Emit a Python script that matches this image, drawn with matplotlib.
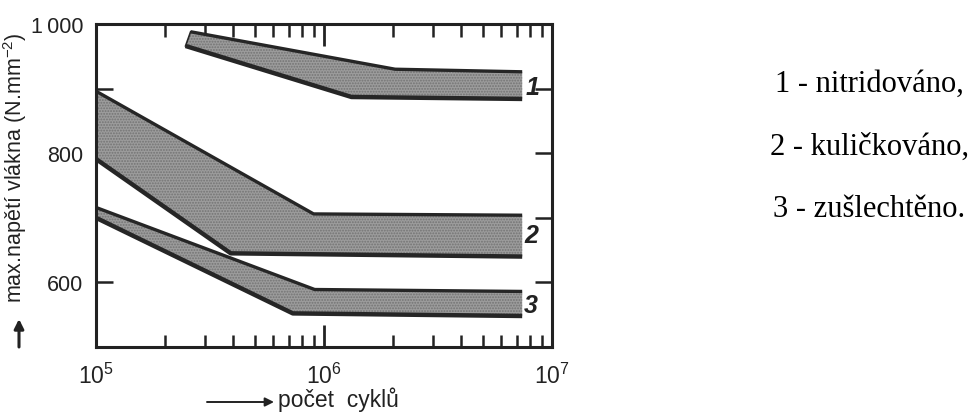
import matplotlib
matplotlib.use("Agg")
import matplotlib.pyplot as plt

plt.rcParams['font.family'] = ['Liberation Sans', 'DejaVu Sans']
plt.rcParams['mathtext.fontset'] = 'custom'
plt.rcParams['mathtext.rm'] = 'Liberation Sans'
plt.rcParams['mathtext.it'] = 'Liberation Sans:italic'
plt.rcParams['hatch.color'] = '#737373'
plt.rcParams['hatch.linewidth'] = 0.9

# ---- data ----
band_names = ['1', '2', '3']
legend_lines = ['1 - nitridováno,', '2 - kuličkováno,', '3 - zušlechtěno.']

b1_upper_x = [2.6e5, 2.05e6, 7.4e6]
b1_upper_y = [988, 930, 926]
b1_lower_x = [2.47e5, 1.32e6, 7.4e6]
b1_lower_y = [966, 887, 884]

b2_upper_x = [1e5, 9.0e5, 7.4e6]
b2_upper_y = [896, 706, 704]
b2_lower_x = [1e5, 3.9e5, 7.4e6]
b2_lower_y = [791, 645, 640]

b3_upper_x = [1e5, 9.1e5, 7.4e6]
b3_upper_y = [716, 589, 586]
b3_lower_x = [1e5, 7.3e5, 7.4e6]
b3_lower_y = [700, 552, 548]

label_x = [8.2e6, 8.1e6, 8.1e6]
label_y = [903, 673, 565]

y_ticks = [600, 700, 800, 900, 1000]
y_ticklabels = ['600', '', '800', '', '1\u2009000']
x_ticks = [1e5, 1e6, 1e7]
x_ticklabels = ['$10^5$', '$10^6$', '$10^7$']

bands = [
    (b1_upper_x, b1_upper_y, b1_lower_x, b1_lower_y),
    (b2_upper_x, b2_upper_y, b2_lower_x, b2_lower_y),
    (b3_upper_x, b3_upper_y, b3_lower_x, b3_lower_y),
]

fig = plt.figure(figsize=(9.74, 4.14), dpi=100)
ax = fig.add_axes([96/974, 66/414, 456/974, 323/414])
ax.set_xscale('log')
ax.set_xlim(1e5, 1e7)
ax.set_ylim(500, 1000)

edge = '#262626'
for ux, uy, lx, ly in bands:
    px = list(ux) + list(lx[::-1])
    py = list(uy) + list(ly[::-1])
    ax.fill(px, py, facecolor='#9c9c9c', hatch='......', linewidth=0, zorder=2)
    ax.plot(ux, uy, color=edge, lw=2.4, solid_capstyle='butt', zorder=3)
    ax.plot(lx, ly, color=edge, lw=3.2, solid_capstyle='butt', zorder=3)
    ax.plot([ux[0], lx[0]], [uy[0], ly[0]], color=edge, lw=1.2, zorder=3)

for name, x, y in zip(band_names, label_x, label_y):
    ax.text(x, y, name, fontsize=18, style='italic', fontweight='bold',
            ha='center', va='center', color='#222222', zorder=4)

ax.set_xticks(x_ticks, x_ticklabels)
ax.set_yticks(y_ticks, y_ticklabels)
ax.tick_params(axis='x', which='major', direction='in', length=16, width=2.0,
               top=True, bottom=True, pad=11, labelsize=16.5, colors='#222222')
ax.tick_params(axis='x', which='minor', direction='in', length=9, width=1.8,
               top=True, bottom=True, colors='#222222')
ax.tick_params(axis='y', which='major', direction='in', length=12, width=1.8,
               left=True, right=True, pad=9, labelsize=15.5, colors='#222222')
for s in ax.spines.values():
    s.set_linewidth(2.2)
    s.set_color('#222222')
    s.set_zorder(5)

# axis labels with arrows
fig.text(15/974, 1 - 168/414, 'max.napětí vlákna (N.mm$^{-2}$)', rotation=90,
         ha='center', va='center', fontsize=15.5, color='#222222')
ax.annotate('', xy=(19/974, 1 - 320/414), xytext=(19/974, 1 - 348/414),
            xycoords='figure fraction', textcoords='figure fraction',
            arrowprops=dict(arrowstyle='-|>', lw=2.2, color='#222222',
                            mutation_scale=14, shrinkA=0, shrinkB=0))
fig.text(278/974, 1 - 407/414, 'počet  cyklů', ha='left', va='baseline',
         fontsize=16.5, color='#222222')
ax.annotate('', xy=(274/974, 1 - 403/414), xytext=(207/974, 1 - 403/414),
            xycoords='figure fraction', textcoords='figure fraction',
            arrowprops=dict(arrowstyle='-|>', lw=1.4, color='#222222',
                            mutation_scale=13, shrinkA=0, shrinkB=0))

# legend text on the right
for txt, yc in zip(legend_lines, [84, 147, 210]):
    fig.text(869/974, 1 - yc/414, txt, ha='center', va='center',
             fontsize=22, family=['Liberation Serif', 'DejaVu Serif'], color='black')

fig.savefig('out.png', dpi=100)
